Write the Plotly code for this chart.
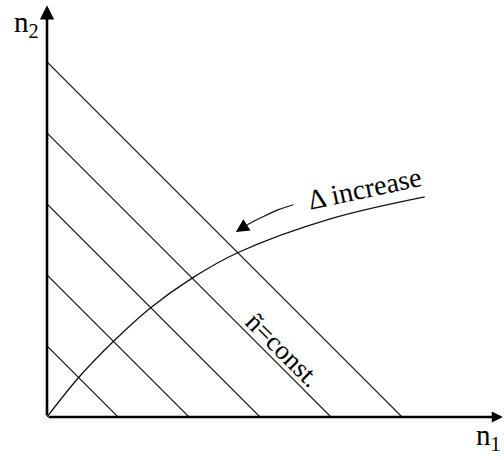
import plotly.graph_objects as go

# constant-ñ lines: n1 + n2 = level
line_levels = [1, 2, 3, 4, 5]

# Δ-increase curve
curve_n1 = [0.0, 0.44, 0.93, 1.46, 2.05, 2.70, 3.99, 5.32]
curve_n2 = [0.0, 0.55, 1.06, 1.54, 1.96, 2.32, 2.79, 3.10]

# small curved arrow next to "Δ increase"
arrow_n1 = [3.47, 3.26, 3.04, 2.90, 2.76]
arrow_n2 = [2.99, 2.92, 2.82, 2.75, 2.67]
arrow_tip = (2.66, 2.605)

x_axis_end = 6.42
y_axis_end = 5.80

font_family = "Liberation Serif"

fig = go.Figure()

for c in line_levels:
    fig.add_trace(go.Scatter(x=[0, c], y=[c, 0], mode="lines",
                             line=dict(color="#111111", width=1.1),
                             hoverinfo="skip"))

fig.add_trace(go.Scatter(x=curve_n1, y=curve_n2, mode="lines",
                         line=dict(color="#111111", width=1.3, shape="spline"),
                         hoverinfo="skip"))

fig.add_trace(go.Scatter(x=arrow_n1, y=arrow_n2, mode="lines",
                         line=dict(color="#111111", width=1.2, shape="spline"),
                         hoverinfo="skip"))

annotations = [
    # axes with arrowheads
    dict(x=x_axis_end, y=0, ax=0, ay=0, xref="x", yref="y", axref="x", ayref="y",
         text="", showarrow=True, arrowhead=2, arrowsize=0.85, arrowwidth=2.6,
         arrowcolor="black"),
    dict(x=0, y=y_axis_end, ax=0, ay=0, xref="x", yref="y", axref="x", ayref="y",
         text="", showarrow=True, arrowhead=2, arrowsize=1.1, arrowwidth=2.6,
         arrowcolor="black"),
    # curved arrow head
    dict(x=arrow_tip[0], y=arrow_tip[1], ax=arrow_n1[-1], ay=arrow_n2[-1],
         xref="x", yref="y", axref="x", ayref="y",
         text="", showarrow=True, arrowhead=2, arrowsize=2.2, arrowwidth=1.2,
         arrowcolor="black"),
    # texts
    dict(x=4.47, y=3.22, xref="x", yref="y", text="Δ increase", showarrow=False,
         textangle=-12, font=dict(family=font_family, size=28, color="black")),
    dict(x=3.33, y=0.95, xref="x", yref="y", text="ñ=const.", showarrow=False,
         textangle=45, font=dict(family=font_family, size=27, color="black")),
    dict(x=-0.076, y=0.99, xref="paper", yref="paper", text="n<sub>2</sub>",
         showarrow=False, font=dict(family=font_family, size=29, color="black")),
    dict(x=0.998, y=-0.095, xref="paper", yref="paper", text="n<sub>1</sub>",
         showarrow=False, font=dict(family=font_family, size=29, color="black")),
]

fig.update_layout(
    width=504, height=460, autosize=False,
    margin=dict(l=47, r=0, t=0, b=43),
    paper_bgcolor="white", plot_bgcolor="white",
    showlegend=False,
    font=dict(family=font_family),
    annotations=annotations,
    xaxis=dict(range=[0, 457 / 71], visible=False, fixedrange=True),
    yaxis=dict(range=[0, 417 / 71], visible=False, fixedrange=True),
)

fig.write_html("out.html",
               config={"displayModeBar": False},
               post_script="document.body.style.margin='0';"
                           "document.body.style.overflow='hidden';")
